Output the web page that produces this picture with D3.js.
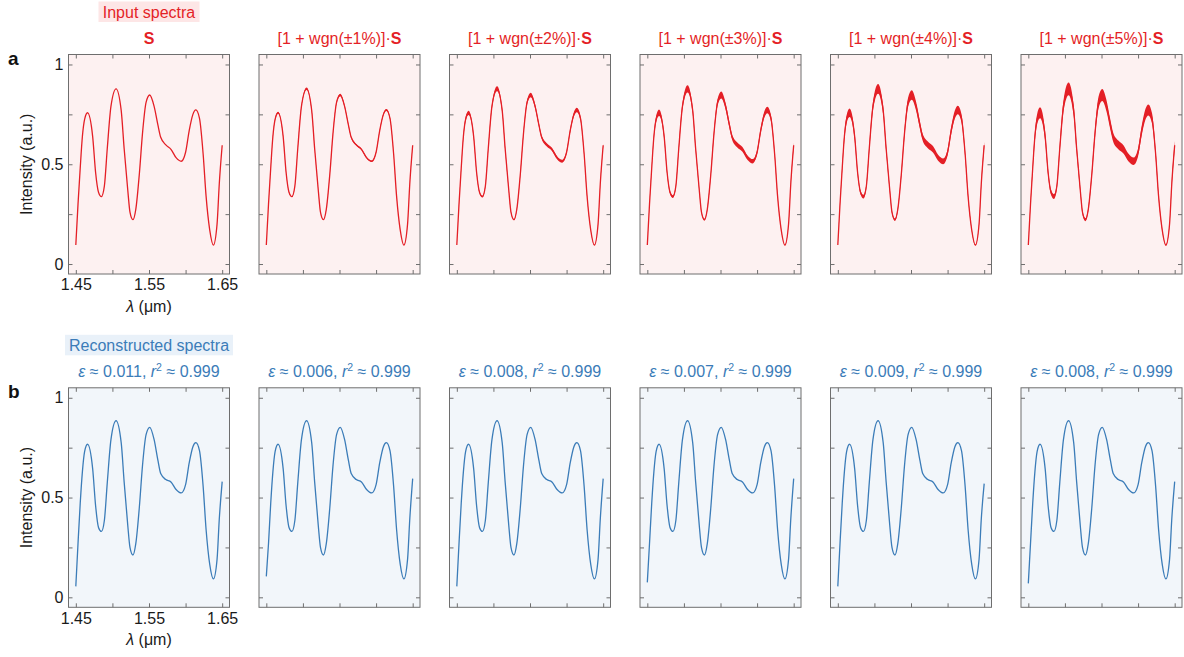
<!DOCTYPE html>
<html>
<head>
<meta charset="utf-8">
<script src="https://cdn.jsdelivr.net/npm/d3@7"></script>
<style>
  body { margin: 0; background: white; }
  text { font-family: "Liberation Sans", Arial, sans-serif; }
</style>
</head>
<body>
<div id="chart"></div>
<script>
// wavelength grid (um) shared by the input and reconstructed spectra
let lambda = [1.450, 1.453, 1.456, 1.459, 1.462, 1.466, 1.473, 1.477, 1.481, 1.485, 1.489, 1.493, 1.498, 1.505,
    1.512, 1.516, 1.521, 1.524, 1.528, 1.532, 1.537, 1.541, 1.546, 1.551, 1.557, 1.562, 1.566, 1.573, 1.580,
    1.587, 1.594, 1.600, 1.605, 1.610, 1.614, 1.619, 1.624, 1.628, 1.633, 1.638, 1.643, 1.646, 1.650];

let inputS = [0.095, 0.30, 0.48, 0.64, 0.725, 0.758, 0.64, 0.46, 0.36, 0.338, 0.39, 0.58, 0.79, 0.878,
    0.77, 0.58, 0.37, 0.26, 0.222, 0.275, 0.46, 0.65, 0.81, 0.847, 0.79, 0.70, 0.635, 0.597, 0.575,
    0.533, 0.515, 0.56, 0.67, 0.75, 0.772, 0.73, 0.55, 0.34, 0.17, 0.095, 0.20, 0.40, 0.595];

let recon = [0.055, 0.27, 0.47, 0.63, 0.73, 0.767, 0.645, 0.46, 0.35, 0.33, 0.385, 0.575, 0.79, 0.885,
    0.775, 0.58, 0.36, 0.25, 0.212, 0.27, 0.46, 0.655, 0.815, 0.852, 0.79, 0.69, 0.62, 0.59, 0.578,
    0.54, 0.523, 0.565, 0.675, 0.755, 0.775, 0.735, 0.555, 0.34, 0.165, 0.092, 0.19, 0.39, 0.58];

// per panel end points of the reconstructions
let reconStart = [0.055, 0.105, 0.055, 0.075, 0.055, 0.07];
let reconEnd = [0.58, 0.595, 0.595, 0.595, 0.57, 0.58];

let noisePct = [0, 1, 2, 3, 4, 5];
let noiseBand = [0, 0.007, 0.014, 0.021, 0.028, 0.036];
let epsValues = ["0.011", "0.006", "0.008", "0.007", "0.009", "0.008"];
let r2Values = ["0.999", "0.999", "0.999", "0.999", "0.999", "0.999"];

let xTicks = [1.45, 1.5, 1.55, 1.6, 1.65];
let xTickLabels = [1.45, 1.55, 1.65];
let yTicks = [0, 0.25, 0.5, 0.75, 1];
let yTickLabels = [0, 0.5, 1];

const red = "#e41f26";
const blue = "#3b7cb8";

function renderFigure() {
    const wSvg = 1184;
    const hSvg = 657;
    const left0 = 68.5;
    const colStep = 190.5;
    const boxW = 161;
    const boxH = 219.5;
    const rowTop = [54.5, 387.8];

    let svg = d3.select("#chart")
        .append("svg")
        .attr("width", wSvg)
        .attr("height", hSvg);

    let rows = [
        { color: red, bg: "#fdf1f1", labelBg: "#fde6e6", label: "Input spectra", letter: "a" },
        { color: blue, bg: "#f2f6fa", labelBg: "#e9f1f9", label: "Reconstructed spectra", letter: "b" }
    ];

    rows.forEach((row, r) => {
        let top = rowTop[r];
        let yScale = d3.scaleLinear([-0.05, 1.05], [top + boxH, top]);

        for (let c = 0; c < 6; c++) {
            let left = left0 + c * colStep;
            let xScale = d3.scaleLinear([1.44, 1.66], [left, left + boxW]);
            let g = svg.append("g");

            g.append("rect")
                .attr("x", left)
                .attr("y", top)
                .attr("width", boxW)
                .attr("height", boxH)
                .attr("fill", row.bg);

            // series for this panel
            let values;
            if (r == 0) {
                values = inputS.slice();
            } else {
                values = recon.slice();
                values[0] = reconStart[c];
                values[values.length - 1] = reconEnd[c];
            }
            let pts = lambda.map((l, i) => ({ x: l, y: values[i] }));

            if (r == 0 && noiseBand[c] > 0) {
                let band = noiseBand[c];
                let area = d3.area()
                    .x(d => xScale(d.x))
                    .y0(d => yScale(d.y * (1 - band)))
                    .y1(d => yScale(d.y * (1 + band)))
                    .curve(d3.curveMonotoneX);
                g.append("path")
                    .attr("d", area(pts))
                    .attr("fill", row.color);
            }

            let line = d3.line()
                .x(d => xScale(d.x))
                .y(d => yScale(d.y))
                .curve(d3.curveMonotoneX);
            g.append("path")
                .attr("d", line(pts))
                .attr("fill", "none")
                .attr("stroke", row.color)
                .attr("stroke-width", 1.3);

            // inward ticks on all four sides
            let showLabels = c == 0;
            let axes = [
                { axis: d3.axisBottom(xScale).tickValues(xTicks), t: `translate(0, ${top + boxH})`, lab: showLabels ? xTickLabels : [] },
                { axis: d3.axisTop(xScale).tickValues(xTicks), t: `translate(0, ${top})`, lab: [] },
                { axis: d3.axisLeft(yScale).tickValues(yTicks), t: `translate(${left}, 0)`, lab: showLabels ? yTickLabels : [] },
                { axis: d3.axisRight(yScale).tickValues(yTicks), t: `translate(${left + boxW}, 0)`, lab: [] }
            ];
            for (let a of axes) {
                let lab = a.lab;
                a.axis.tickSizeInner(-4).tickSizeOuter(0).tickPadding(5)
                    .tickFormat(d => lab.includes(d) ? d3.format("~g")(d) : "");
                let ag = g.append("g")
                    .attr("transform", a.t)
                    .call(a.axis);
                ag.select(".domain").remove();
                ag.selectAll(".tick line").attr("stroke", "#6e6e6e");
                ag.selectAll(".tick text")
                    .attr("fill", "#1a1a1a")
                    .style("font-size", "16px")
                    .style("font-family", "'Liberation Sans', Arial, sans-serif");
            }

            g.append("rect")
                .attr("x", left)
                .attr("y", top)
                .attr("width", boxW)
                .attr("height", boxH)
                .attr("fill", "none")
                .attr("stroke", "#6e6e6e")
                .attr("stroke-width", 1);

            // panel title
            let title = g.append("text")
                .attr("x", left + boxW / 2)
                .attr("y", top - 10.5)
                .attr("text-anchor", "middle")
                .attr("fill", row.color)
                .style("font-size", "16px");
            if (r == 0) {
                if (noisePct[c] > 0) {
                    title.append("tspan").text(`[1 + wgn(±${noisePct[c]}%)]·`);
                }
                title.append("tspan").attr("font-weight", "bold").text("S");
            } else {
                title.append("tspan").attr("font-style", "italic").text("ε");
                title.append("tspan").text(` ≈ ${epsValues[c]}, `);
                title.append("tspan").attr("font-style", "italic").text("r");
                title.append("tspan").attr("dy", -6).style("font-size", "10.5px").text("2");
                title.append("tspan").attr("dy", 6).text(` ≈ ${r2Values[c]}`);
            }

            if (c == 0) {
                let cx = left + boxW / 2;
                let lw = r == 0 ? 101 : 168;
                g.append("rect")
                    .attr("x", cx - lw / 2)
                    .attr("y", top - 53)
                    .attr("width", lw)
                    .attr("height", 20.5)
                    .attr("fill", row.labelBg);
                g.append("text")
                    .attr("x", cx)
                    .attr("y", top - 37)
                    .attr("text-anchor", "middle")
                    .attr("fill", row.color)
                    .style("font-size", "16px")
                    .text(row.label);

                g.append("text")
                    .attr("x", 8)
                    .attr("y", top + 10.5)
                    .attr("font-weight", "bold")
                    .style("font-size", "19px")
                    .attr("fill", "#111")
                    .text(row.letter);

                g.append("text")
                    .attr("transform", `translate(32, ${top + boxH / 2}) rotate(-90)`)
                    .attr("text-anchor", "middle")
                    .attr("fill", "#1a1a1a")
                    .style("font-size", "16px")
                    .text("Intensity (a.u.)");

                let xl = g.append("text")
                    .attr("x", cx)
                    .attr("y", top + boxH + 38)
                    .attr("text-anchor", "middle")
                    .attr("fill", "#1a1a1a")
                    .style("font-size", "16px");
                xl.append("tspan").attr("font-style", "italic").text("λ");
                xl.append("tspan").text(" (μm)");
            }
        }
    });
}

renderFigure();
</script>
</body>
</html>
